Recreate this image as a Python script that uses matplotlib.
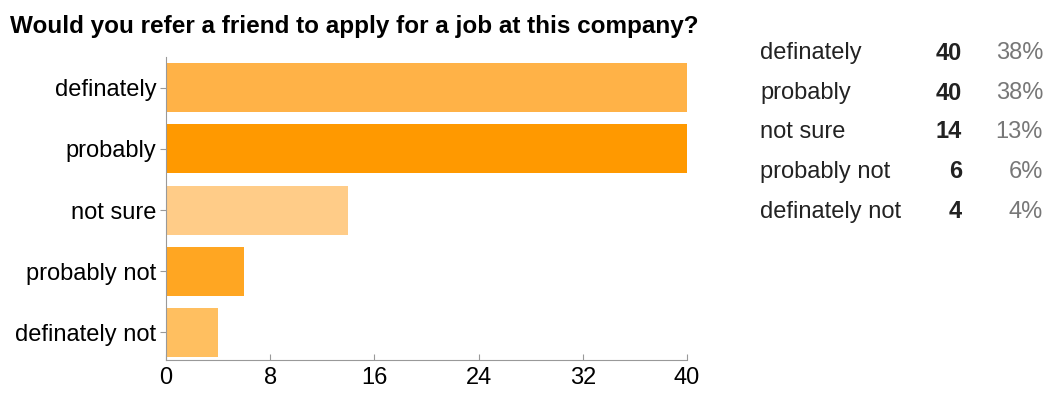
# horizontal bar chart of survey answers with a summary table on the right
import matplotlib.pyplot as plt

plt.rcParams['font.family'] = ['Liberation Sans', 'DejaVu Sans']

answers = ['definately', 'probably', 'not sure', 'probably not', 'definately not']
counts = [40, 40, 14, 6, 4]
percents = ['38%', '38%', '13%', '6%', '4%']
bar_colors = ['#ffb247', '#ff9900', '#ffcc88', '#ffa622', '#ffbf60']
xticks = [0, 8, 16, 24, 32, 40]

fig = plt.figure(figsize=(10.48, 3.94), dpi=100)
ax = fig.add_axes([166/1048, 1 - 360/394, (687 - 166)/1048, (360 - 57)/394])

ypos = list(range(len(answers)))
ax.barh(ypos, counts, height=0.8, color=bar_colors, zorder=2)
ax.set_ylim(len(answers) - 0.55, -0.5)
ax.set_xlim(0, 40)
ax.set_xticks(xticks)
ax.set_yticks(ypos)
ax.set_yticklabels(answers)

for side in ['top', 'right']:
    ax.spines[side].set_visible(False)
for side in ['left', 'bottom']:
    ax.spines[side].set_color('#999999')
ax.tick_params(axis='y', length=4, color='#999999', labelsize=17, pad=3)
ax.tick_params(axis='x', direction='in', length=4, color='#999999', labelsize=17, pad=5)

fig.text(10/1048, 1 - 26/394, 'Would you refer a friend to apply for a job at this company?',
         fontsize=17.5, fontweight='bold', va='center', ha='left')

# summary table
row_y = [53, 93, 132, 172, 212]
for name, n, pct, y in zip(answers, counts, percents, row_y):
    yy = 1 - y/394
    fig.text(760/1048, yy, name, fontsize=17, va='center', ha='left', color='#222222')
    fig.text(962/1048, yy, str(n), fontsize=17, fontweight='bold', va='center', ha='right', color='#222222')
    fig.text(1043/1048, yy, pct, fontsize=17, va='center', ha='right', color='#777777')

plt.savefig('out.png')
